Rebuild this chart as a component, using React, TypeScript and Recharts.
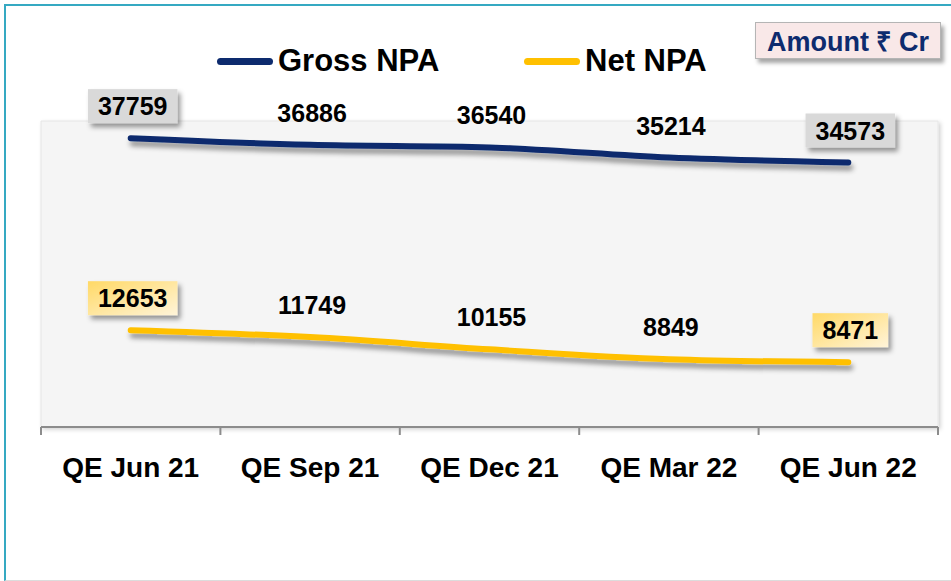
import React from "react";
import { LineChart, Line, XAxis, YAxis, LabelList, ReferenceArea } from "recharts";

const categories = ["QE Jun 21", "QE Sep 21", "QE Dec 21", "QE Mar 22", "QE Jun 22"];
const grossNPA = [37759, 36886, 36540, 35214, 34573];
const netNPA = [12653, 11749, 10155, 8849, 8471];
const seriesNames = ["Gross NPA", "Net NPA"];
const unitLabel = "Amount ₹ Cr";
const xTicks = [0, 0.5, 1, 1.5, 2, 2.5, 3, 3.5, 4, 4.5, 5];

const data = categories.map((c, i) => ({ x: i + 0.5, name: c, gross: grossNPA[i], net: netNPA[i] }));

const FONT = "Arial, 'Liberation Sans', sans-serif";
const NAVY = "#0d2b6e";
const GOLD = "#ffc000";

const Tick = (props: any) => {
  const { x, y, payload } = props;
  const v = payload.value;
  if (Number.isInteger(v)) {
    return <line x1={x} x2={x} y1={y} y2={y + 8} stroke="#8c8c8c" strokeWidth={2} />;
  }
  const idx = Math.round(v - 0.5);
  return (
    <text x={x} y={y + 40} textAnchor="middle" dominantBaseline="central" fontFamily={FONT} fontWeight="bold" fontSize={28} fill="#000">
      {categories[idx]}
    </text>
  );
};

const makeLabel = (kind: "gross" | "net") => (props: any) => {
  const { x, y, value, index } = props;
  const cy = y - 32;
  const txt = String(value);
  const boxed = index === 0 || index === categories.length - 1;
  const w = txt.length * 13.9 + 20;
  return (
    <g>
      {boxed && (
        <rect
          x={x + 2 - w / 2}
          y={cy - 17}
          width={w}
          height={34}
          fill={kind === "gross" ? "#d9d9d9" : "url(#goldGrad)"}
          filter="url(#boxShadow)"
        />
      )}
      <text x={x + 2} y={cy} textAnchor="middle" dominantBaseline="central" fontFamily={FONT} fontWeight="bold" fontSize={25} fill="#000">
        {txt}
      </text>
    </g>
  );
};

const LegendItem = ({ color, label, left }: { color: string; label: string; left: number }) => (
  <div style={{ position: "absolute", left, top: 44, display: "flex", alignItems: "center", height: 34 }}>
    <div style={{ width: 56, height: 7, borderRadius: 4, background: color, marginRight: 5 }} />
    <span style={{ fontFamily: FONT, fontWeight: "bold", fontSize: 31, color: "#000", lineHeight: "34px" }}>{label}</span>
  </div>
);

export default function App() {
  return (
    <div style={{ position: "fixed", left: 0, top: 0, width: 951, height: 581, background: "#fff", overflow: "hidden" }}>
      <svg width={0} height={0} style={{ position: "absolute" }}>
        <defs>
          <filter id="lineShadow" x="-10%" y="-80%" width="120%" height="400%">
            <feDropShadow dx={2} dy={5} stdDeviation={2.5} floodColor="#000" floodOpacity={0.4} />
          </filter>
          <filter id="boxShadow" x="-20%" y="-30%" width="150%" height="180%">
            <feDropShadow dx={3} dy={4} stdDeviation={2.5} floodColor="#000" floodOpacity={0.4} />
          </filter>
          <filter id="areaShadow" x="-5%" y="-5%" width="110%" height="110%">
            <feDropShadow dx={2} dy={2} stdDeviation={2} floodColor="#000" floodOpacity={0.18} />
          </filter>
          <linearGradient id="goldGrad" x1="0" y1="0" x2="1" y2="1">
            <stop offset="0%" stopColor="#ffd966" />
            <stop offset="100%" stopColor="#fff4d9" />
          </linearGradient>
        </defs>
      </svg>
      <div style={{ position: "absolute", left: 4, top: 4, width: 1000, height: 574, borderLeft: "2px solid #35a9c2", borderTop: "2px solid #35a9c2", borderBottom: "1px solid #dcdcdc" }} />
      <div style={{ position: "absolute", left: 0, top: 0 }}>
        <LineChart width={951} height={581} data={data} margin={{ top: 121, right: 13, bottom: 94, left: 41 }}>
          <ReferenceArea x1={0} x2={5} y1={0} y2={40000} fill="#f5f5f5" fillOpacity={1} stroke="#e6e6e6" filter="url(#areaShadow)" ifOverflow="extendDomain" />
          <XAxis
            dataKey="x"
            type="number"
            domain={[0, 5]}
            ticks={xTicks}
            interval={0}
            tickLine={false}
            tickSize={0}
            tickMargin={0}
            height={60}
            axisLine={{ stroke: "#8c8c8c", strokeWidth: 2 }}
            tick={<Tick />}
          />
          <YAxis hide domain={[0, 40000]} />
          <Line
            type="monotone"
            dataKey="gross"
            name={seriesNames[0]}
            stroke={NAVY}
            strokeWidth={6}
            strokeLinecap="round"
            dot={false}
            isAnimationActive={false}
            filter="url(#lineShadow)"
          >
            <LabelList dataKey="gross" content={makeLabel("gross")} />
          </Line>
          <Line
            type="monotone"
            dataKey="net"
            name={seriesNames[1]}
            stroke={GOLD}
            strokeWidth={6}
            strokeLinecap="round"
            dot={false}
            isAnimationActive={false}
            filter="url(#lineShadow)"
          >
            <LabelList dataKey="net" content={makeLabel("net")} />
          </Line>
        </LineChart>
      </div>
      <LegendItem color={NAVY} label={seriesNames[0]} left={217} />
      <LegendItem color={GOLD} label={seriesNames[1]} left={524} />
      <div
        style={{
          position: "absolute",
          left: 755,
          top: 22,
          width: 184,
          height: 35,
          background: "#f9e8e8",
          border: "1px solid #b5b5b5",
          boxShadow: "3px 4px 4px rgba(0,0,0,0.35)",
          display: "flex",
          alignItems: "center",
          justifyContent: "center",
          fontFamily: FONT,
          fontWeight: "bold",
          fontSize: 27,
          color: NAVY,
          whiteSpace: "nowrap",
        }}
      >
        {unitLabel}
      </div>
    </div>
  );
}
